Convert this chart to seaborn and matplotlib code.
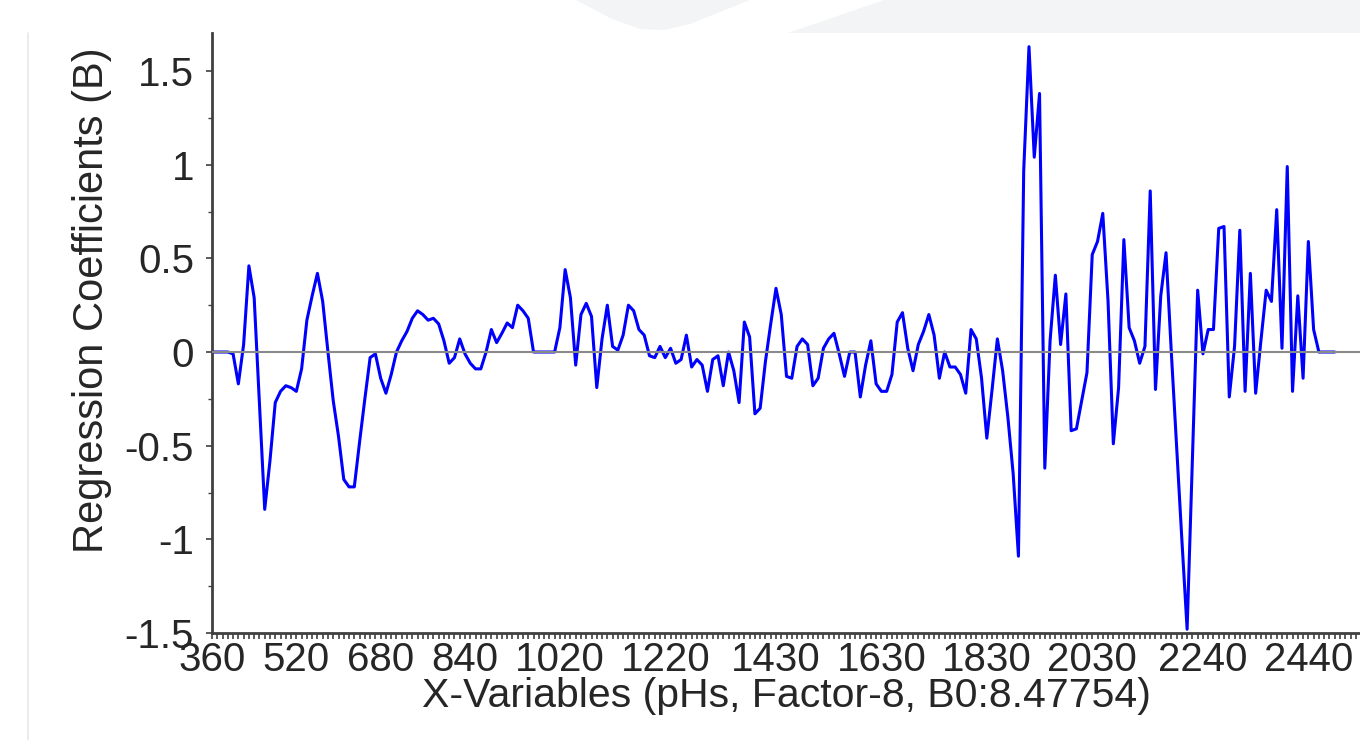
import matplotlib
matplotlib.use("Agg")
import matplotlib.pyplot as plt
from matplotlib.patches import Polygon
from matplotlib.lines import Line2D
from matplotlib.ticker import MultipleLocator, FixedLocator
import seaborn as sns
import pandas as pd

# wavelengths (X-variables) and regression coefficients
wavelengths = [
    360, 370, 380, 390, 400, 410, 420, 430, 440, 450, 460, 470, 480, 490, 500,
    510, 520, 530, 540, 550, 560, 570, 580, 590, 600, 610, 620, 630, 640, 650,
    660, 670, 680, 690, 700, 710, 720, 730, 740, 750, 760, 770, 780, 790, 800,
    810, 820, 830, 840, 850, 860, 870, 880, 890, 900, 910, 920, 930, 940, 950,
    960, 970, 980, 990, 1000, 1010, 1020, 1030, 1040, 1050, 1060, 1070, 1080, 1090, 1100,
    1110, 1120, 1130, 1140, 1150, 1160, 1170, 1180, 1190, 1200, 1210, 1220, 1230, 1240, 1250,
    1260, 1270, 1280, 1290, 1300, 1310, 1320, 1330, 1340, 1350, 1360, 1370, 1380, 1390, 1400,
    1410, 1420, 1430, 1440, 1450, 1460, 1470, 1480, 1490, 1500, 1510, 1520, 1530, 1540, 1550,
    1560, 1570, 1580, 1590, 1600, 1610, 1620, 1630, 1640, 1650, 1660, 1670, 1680, 1690, 1700,
    1710, 1720, 1730, 1740, 1750, 1760, 1770, 1780, 1790, 1800, 1810, 1820, 1830, 1840, 1850,
    1860, 1870, 1880, 1890, 1900, 1910, 1920, 1930, 1940, 1950, 1960, 1970, 1980, 1990, 2000,
    2010, 2020, 2030, 2040, 2050, 2060, 2070, 2080, 2090, 2100, 2110, 2120, 2130, 2140, 2150,
    2160, 2170, 2180, 2190, 2200, 2210, 2220, 2230, 2240, 2250, 2260, 2270, 2280, 2290, 2300,
    2310, 2320, 2330, 2340, 2350, 2360, 2370, 2380, 2390, 2400, 2410, 2420, 2430, 2440, 2450,
    2460, 2470, 2480, 2490,
]
coefficients = [
    0.00, 0.00, 0.00, 0.00, -0.01, -0.17, 0.04, 0.46, 0.29, -0.28, -0.84, -0.58, -0.27, -0.21, -0.18,
    -0.19, -0.21, -0.09, 0.17, 0.30, 0.42, 0.27, 0.00, -0.26, -0.45, -0.68, -0.72, -0.72, -0.48, -0.25,
    -0.03, -0.01, -0.14, -0.22, -0.12, 0.00, 0.06, 0.11, 0.18, 0.22, 0.20, 0.17, 0.18, 0.15, 0.06,
    -0.06, -0.03, 0.07, -0.01, -0.06, -0.09, -0.09, 0.00, 0.12, 0.05, 0.10, 0.155, 0.13, 0.25, 0.22,
    0.18, 0.00, 0.00, 0.00, 0.00, 0.00, 0.13, 0.44, 0.29, -0.07, 0.20, 0.26, 0.19, -0.19, 0.07,
    0.25, 0.03, 0.01, 0.09, 0.25, 0.22, 0.12, 0.09, -0.02, -0.03, 0.03, -0.03, 0.02, -0.06, -0.04,
    0.09, -0.08, -0.04, -0.07, -0.21, -0.04, -0.02, -0.18, 0.00, -0.10, -0.27, 0.16, 0.08, -0.33, -0.30,
    -0.05, 0.15, 0.34, 0.20, -0.13, -0.14, 0.03, 0.07, 0.04, -0.18, -0.14, 0.02, 0.07, 0.10, -0.01,
    -0.13, 0.00, 0.00, -0.24, -0.07, 0.06, -0.17, -0.21, -0.21, -0.12, 0.16, 0.21, 0.02, -0.10, 0.04,
    0.11, 0.20, 0.09, -0.14, 0.00, -0.08, -0.08, -0.12, -0.22, 0.12, 0.07, -0.14, -0.46, -0.20, 0.07,
    -0.10, -0.35, -0.65, -1.09, 0.97, 1.63, 1.04, 1.38, -0.62, 0.06, 0.41, 0.04, 0.31, -0.42, -0.41,
    -0.26, -0.11, 0.52, 0.59, 0.74, 0.27, -0.49, -0.19, 0.60, 0.13, 0.06, -0.06, 0.03, 0.86, -0.20,
    0.30, 0.53, 0.00, -0.50, -1.00, -1.48, -0.58, 0.33, -0.01, 0.12, 0.12, 0.66, 0.67, -0.24, 0.03,
    0.65, -0.21, 0.42, -0.22, 0.06, 0.33, 0.27, 0.76, 0.02, 0.99, -0.21, 0.30, -0.14, 0.59, 0.12,
    0.00, 0.00, 0.00, 0.00,
]
tick_values = [360, 520, 680, 840, 1020, 1220, 1430, 1630, 1830, 2030, 2240, 2440]
ytick_values = [-1.5, -1, -0.5, 0, 0.5, 1, 1.5]
ytick_labels = ["-1.5", "-1", "-0.5", "0", "0.5", "1", "1.5"]

df = pd.DataFrame({"wavelength": wavelengths, "coef": coefficients})

sns.set_style("ticks")
plt.rcParams["font.family"] = ["Liberation Sans", "DejaVu Sans"]

W, H = 1360, 740
fig = plt.figure(figsize=(W / 100, H / 100), dpi=100)
ax = fig.add_axes([212 / W, 1 - 633 / H, (W - 212) / W, 600 / H])

sns.lineplot(data=df, x="wavelength", y="coef", color="#0000FF", linewidth=2.2, ax=ax, zorder=2)
ax.axhline(0, color="#8a8a8a", linewidth=1.5, zorder=3)

ax.set_xlim(360, 2538)
ax.set_ylim(-1.5, 1.703)

ax.xaxis.set_major_locator(FixedLocator(tick_values))
ax.xaxis.set_minor_locator(MultipleLocator(10))
ax.set_xticklabels([str(v) for v in tick_values])
ax.set_yticks(ytick_values)
ax.set_yticklabels(ytick_labels)
ax.yaxis.set_minor_locator(MultipleLocator(0.25))

ax.tick_params(axis="x", which="both", direction="out", length=4, width=1.2,
               color="#404040", labelsize=29, pad=2)
ax.tick_params(axis="y", which="major", direction="out", length=4, width=1.2,
               color="#404040", labelsize=29, pad=9)
ax.tick_params(axis="y", which="minor", direction="out", length=3, width=1.0, color="#404040")

for side in ["top", "right"]:
    ax.spines[side].set_visible(False)
for side in ["left", "bottom"]:
    ax.spines[side].set_color("#404040")
    ax.spines[side].set_linewidth(2)

ax.set_xlabel("X-Variables (pHs, Factor-8, B0:8.47754)", fontsize=29.5, labelpad=-1.5)
ax.set_ylabel("Regression Coefficients (B)", fontsize=30)
ax.yaxis.set_label_coords(-0.087, 0.555)

# screenshot decoration: grey band at the top and a faint rule at the left
def px(x, y):
    return (x / W, 1 - y / H)

band_color = "#f3f4f5"
fig.patches.append(Polygon([px(576, 0), px(610, 18), px(640, 29), px(665, 30), px(690, 24), px(750, 0)],
                           closed=True, transform=fig.transFigure, facecolor=band_color,
                           edgecolor="none", zorder=10))
fig.patches.append(Polygon([px(884, 0), px(788, 33), px(1360, 33), px(1360, 0)],
                           closed=True, transform=fig.transFigure, facecolor=band_color,
                           edgecolor="none", zorder=10))
fig.lines.append(Line2D([28 / W, 28 / W], [0, 1 - 33 / H], transform=fig.transFigure,
                        color="#e8e8e8", linewidth=1.2))

fig.savefig("out.png", dpi=100)
